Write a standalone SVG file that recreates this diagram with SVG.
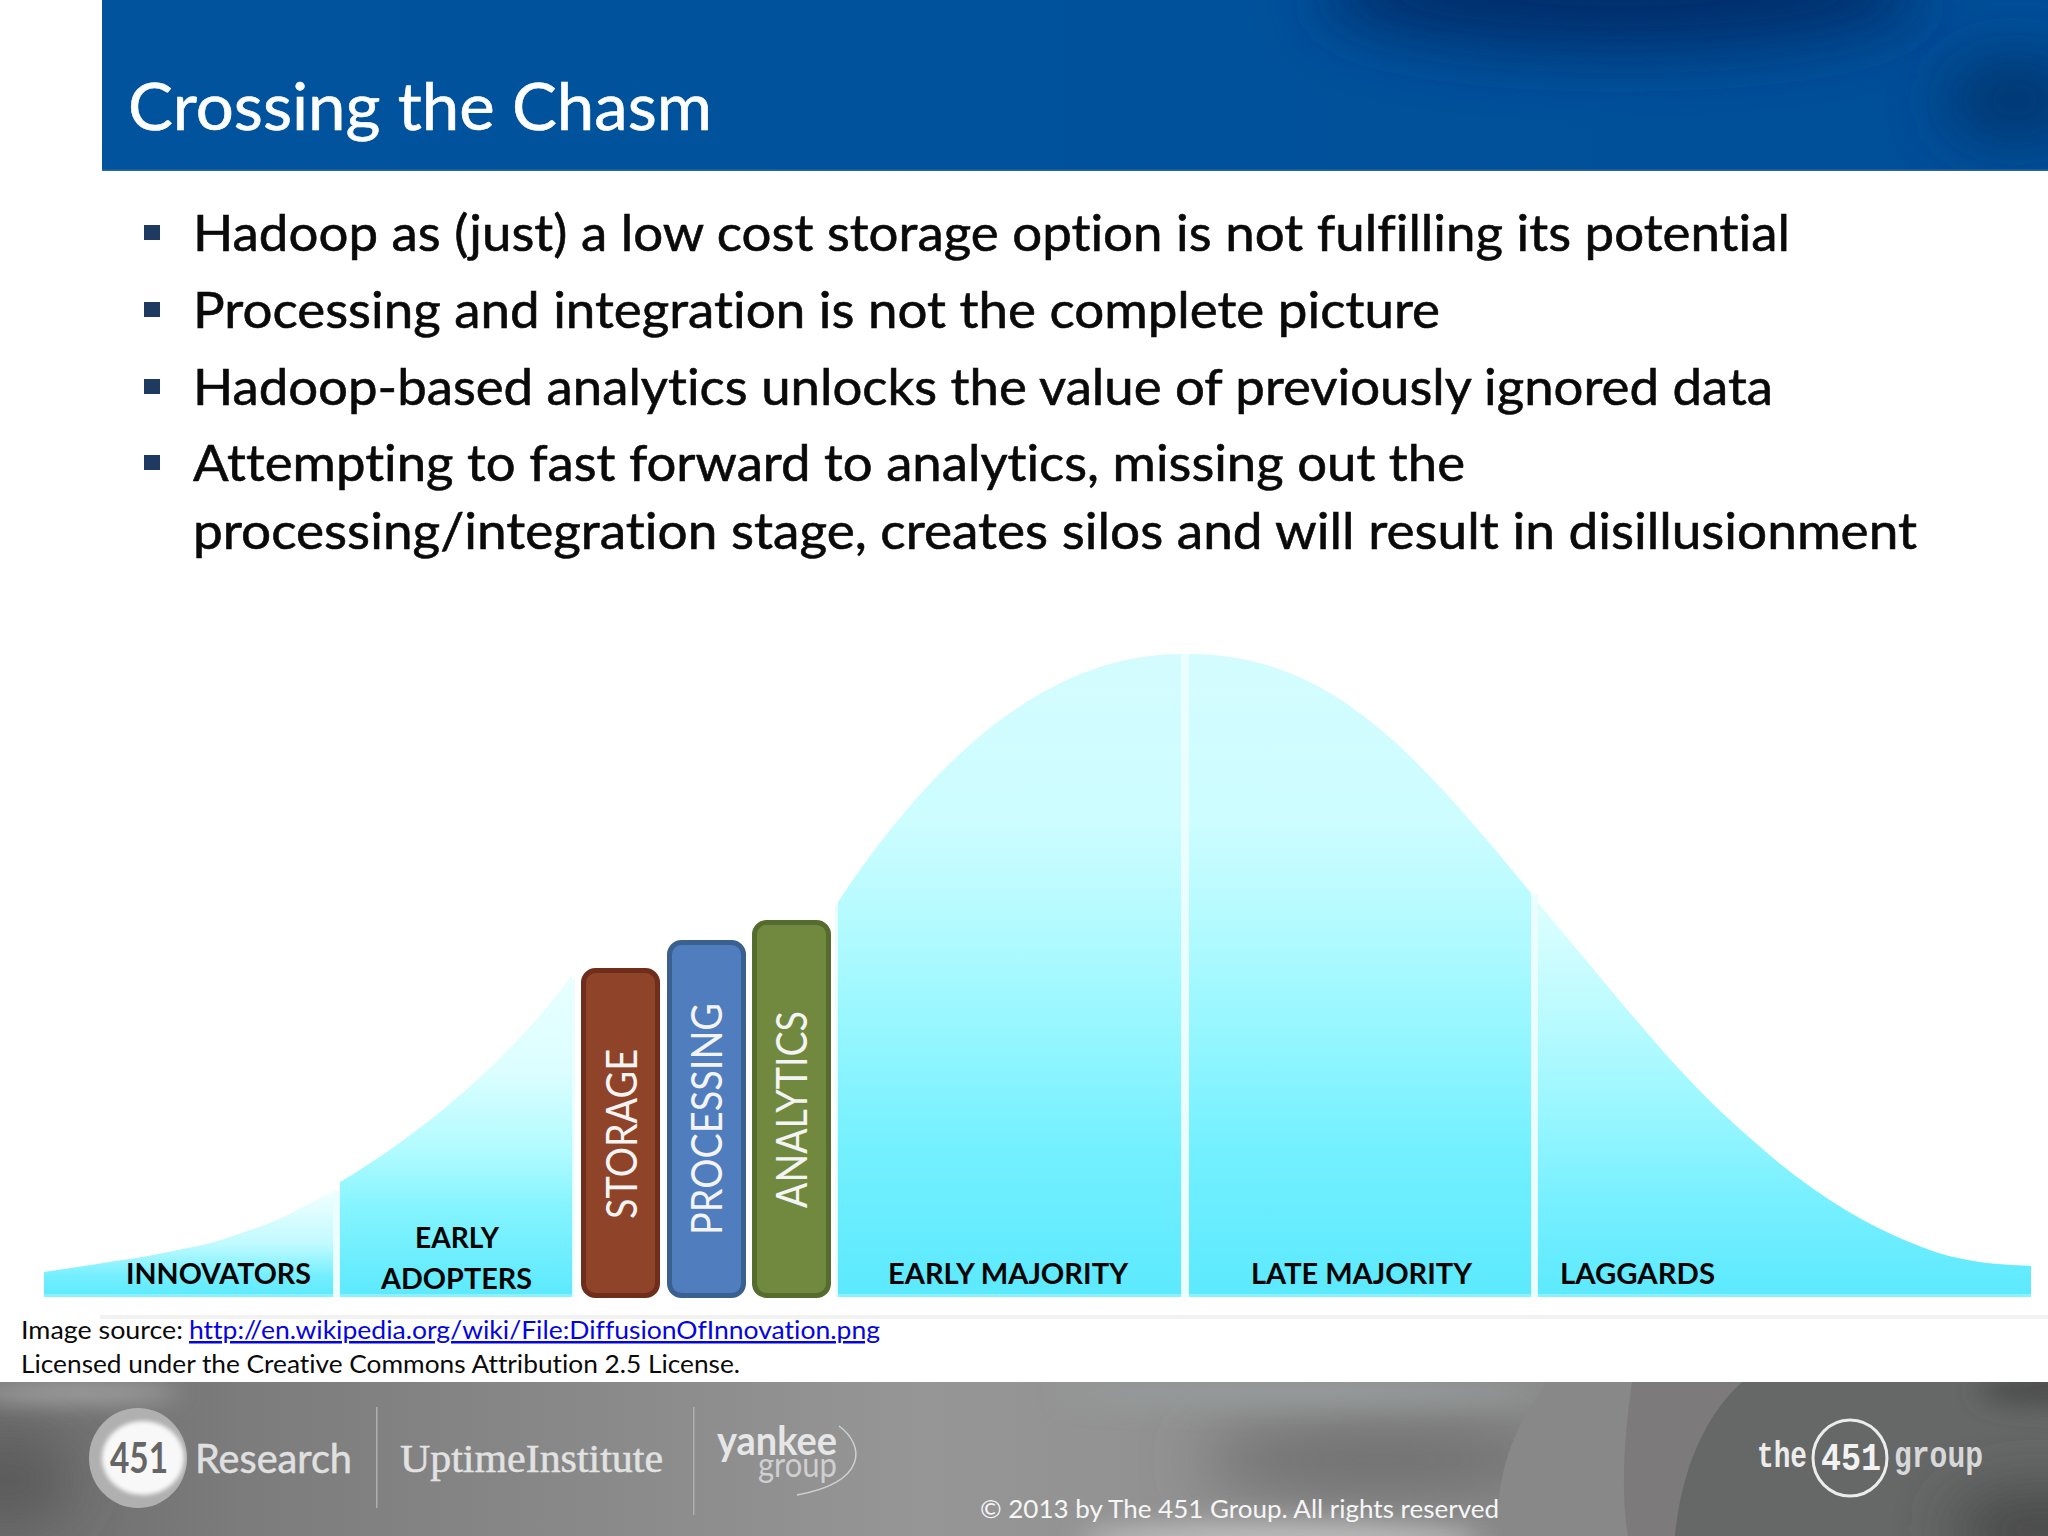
<svg xmlns="http://www.w3.org/2000/svg" width="2048" height="1536" viewBox="0 0 2048 1536">
<style>
text{font-family:"Lato","Liberation Sans",sans-serif;font-variant-ligatures:none}
.body{font-size:51px;fill:#0a0a0a;stroke:#0a0a0a;stroke-width:.6}
.lab{font-size:28px;font-weight:700;fill:#050505}
.vert{font-size:42px;fill:#f4f4f4}
.src{font-size:25px;fill:#0a0a0a}
.bar{stroke-width:5}
.bul{fill:#1f3a60}
.gap{fill:#eafeff}
</style>
<defs>
<linearGradient id="hdr" x1="0" x2="1" y1="0" y2="0"><stop offset="0" stop-color="#00539c"/><stop offset=".55" stop-color="#00519b"/><stop offset="1" stop-color="#004e98"/></linearGradient>
<linearGradient id="g1" gradientUnits="userSpaceOnUse" x1="0" x2="0" y1="653" y2="1297"><stop offset="0" stop-color="#d4fcff"/><stop offset=".26" stop-color="#cdfdff"/><stop offset=".45" stop-color="#aefaff"/><stop offset=".6" stop-color="#93f6ff"/><stop offset=".78" stop-color="#72f0ff"/><stop offset="1" stop-color="#5ce9fe"/></linearGradient>
<linearGradient id="g2" gradientUnits="userSpaceOnUse" x1="0" x2="0" y1="974" y2="1297"><stop offset="0" stop-color="#e8ffff"/><stop offset=".3" stop-color="#dcfeff"/><stop offset=".55" stop-color="#b0fbff"/><stop offset=".72" stop-color="#85f4ff"/><stop offset="1" stop-color="#5ce9fe"/></linearGradient>
<linearGradient id="g3" gradientUnits="userSpaceOnUse" x1="0" x2="0" y1="1191" y2="1297"><stop offset="0" stop-color="#f2ffff"/><stop offset=".5" stop-color="#c0faff"/><stop offset=".8" stop-color="#74efff"/><stop offset="1" stop-color="#5ce9fe"/></linearGradient>
<linearGradient id="g4" gradientUnits="userSpaceOnUse" x1="0" x2="0" y1="903" y2="1297"><stop offset="0" stop-color="#defeff"/><stop offset=".3" stop-color="#b8fbff"/><stop offset=".55" stop-color="#96f6ff"/><stop offset=".75" stop-color="#78f0ff"/><stop offset="1" stop-color="#5ce9fe"/></linearGradient>
<linearGradient id="ft" x1="0" x2="1" y1="0" y2="0"><stop offset="0" stop-color="#6c6c6c"/><stop offset=".12" stop-color="#7c7c7c"/><stop offset=".3" stop-color="#8a8a8a"/><stop offset=".45" stop-color="#969696"/><stop offset=".72" stop-color="#8c8c8c"/><stop offset="1" stop-color="#7a7a7a"/></linearGradient>
<filter id="b30" x="-60%" y="-150%" width="220%" height="400%"><feGaussianBlur stdDeviation="30"/></filter>
<filter id="b12" x="-30%" y="-150%" width="160%" height="400%"><feGaussianBlur stdDeviation="12"/></filter>
<filter id="b2" x="-10%" y="-10%" width="120%" height="120%"><feGaussianBlur stdDeviation="2"/></filter>
<clipPath id="hc"><rect x="102" y="0" width="1946" height="171"/></clipPath>
<clipPath id="fc"><rect x="0" y="1382" width="2048" height="154"/></clipPath>
</defs>
<rect width="2048" height="1536" fill="#ffffff"/>
<g id="header" clip-path="url(#hc)">
<rect x="102" y="0" width="1946" height="171" fill="url(#hdr)"/>
<ellipse cx="1620" cy="-5" rx="300" ry="55" fill="#002f6c" filter="url(#b30)"/>
<ellipse cx="2015" cy="100" rx="70" ry="40" fill="#00346e" filter="url(#b30)"/>
<rect x="102" y="169.500" width="1946" height="1.500" fill="#2a6a9a"/>
<text x="128" y="130" font-size="66" fill="#ffffff" stroke="#ffffff" stroke-width=".6" textLength="584" lengthAdjust="spacingAndGlyphs">Crossing the Chasm</text>
</g>
<g id="bullets">
<rect class="bul" x="144" y="225" width="16" height="15"/>
<rect class="bul" x="144" y="302" width="16" height="15"/>
<rect class="bul" x="144" y="379" width="16" height="15"/>
<rect class="bul" x="144" y="455" width="16" height="15"/>
<text class="body" x="193" y="251" textLength="1597" lengthAdjust="spacingAndGlyphs">Hadoop as (just) a low cost storage option is not fulfilling its potential</text>
<text class="body" x="193" y="328" textLength="1247" lengthAdjust="spacingAndGlyphs">Processing and integration is not the complete picture</text>
<text class="body" x="193" y="405" textLength="1580" lengthAdjust="spacingAndGlyphs">Hadoop-based analytics unlocks the value of previously ignored data</text>
<text class="body" x="193" y="481" textLength="1272" lengthAdjust="spacingAndGlyphs">Attempting to fast forward to analytics, missing out the</text>
<text class="body" x="193" y="549" textLength="1724" lengthAdjust="spacingAndGlyphs">processing/integration stage, creates silos and will result in disillusionment</text>
</g>
<g id="curve">
<rect class="gap" x="333" y="1191" width="7" height="106"/><rect class="gap" x="1181" y="654" width="8" height="643"/><rect class="gap" x="1531" y="895" width="7" height="402"/><rect class="gap" x="835" y="905" width="3" height="392"/><rect class="gap" x="572" y="980" width="3" height="317"/>
<path id="innovators" fill="url(#g3)" d="M44 1272C62 1269 79 1267 97 1264C119 1260 141 1258 163 1253C186 1248 208 1245 230 1237C253 1229 276 1222 297 1210C310 1203 322 1197 333 1191V1297H44Z"/>
<path id="adopters" fill="url(#g2)" d="M340 1182C420 1135 510 1060 572 975V1297H340Z"/>
<path id="early-majority" fill="url(#g1)" d="M838 902C925 770 1040 654 1181 654V1297H838Z"/>
<path id="late-majority" fill="url(#g1)" d="M1189 654C1330 654 1415 752 1531 893V1297H1189Z"/>
<path id="laggards" fill="url(#g4)" d="M1538 903C1545 911 1564.700 934.700 1580 953C1595.300 971.300 1613.300 993.500 1630 1013C1646.700 1032.500 1663.300 1052.200 1680 1070C1696.700 1087.800 1710.500 1102.200 1730 1120C1749.500 1137.800 1774.800 1160.300 1797 1177C1819.200 1193.700 1840.800 1207.800 1863 1220C1885.200 1232.200 1910.500 1243 1930 1250C1949.500 1257 1963.200 1259.300 1980 1262C1996.800 1264.700 2022.500 1265.300 2031 1266V1297H1538Z"/>
<rect x="44" y="1294" width="289" height="3" fill="#8af2ff"/><rect x="340" y="1294" width="232" height="3" fill="#8af2ff"/><rect x="838" y="1294" width="343" height="3" fill="#8af2ff"/><rect x="1189" y="1294" width="342" height="3" fill="#8af2ff"/><rect x="1538" y="1294" width="493" height="3" fill="#8af2ff"/>
<rect x="100" y="1315" width="1948" height="4" fill="#f2f2f2"/>
</g>
<g id="labels">
<text class="lab" x="126" y="1284" textLength="185" lengthAdjust="spacingAndGlyphs">INNOVATORS</text>
<text class="lab" x="415" y="1248" textLength="84" lengthAdjust="spacingAndGlyphs">EARLY</text>
<text class="lab" x="381" y="1289" textLength="151" lengthAdjust="spacingAndGlyphs">ADOPTERS</text>
<text class="lab" x="888" y="1284" textLength="240" lengthAdjust="spacingAndGlyphs">EARLY MAJORITY</text>
<text class="lab" x="1251" y="1284" textLength="221" lengthAdjust="spacingAndGlyphs">LATE MAJORITY</text>
<text class="lab" x="1560" y="1284" textLength="155" lengthAdjust="spacingAndGlyphs">LAGGARDS</text>
</g>
<g id="storage">
<rect class="bar" x="583.500" y="970.500" width="74" height="325" rx="12" fill="#8f4329" stroke="#6e2e1b"/>
<text class="vert" x="637" y="1219" transform="rotate(-90 637 1219)" textLength="170" lengthAdjust="spacingAndGlyphs">STORAGE</text>
</g>
<g id="processing">
<rect class="bar" x="669.500" y="942.500" width="74" height="353" rx="12" fill="#4f7dbd" stroke="#39608f"/>
<text class="vert" x="722" y="1235" transform="rotate(-90 722 1235)" textLength="232" lengthAdjust="spacingAndGlyphs">PROCESSING</text>
</g>
<g id="analytics">
<rect class="bar" x="754.500" y="922.500" width="74" height="373" rx="12" fill="#71893f" stroke="#566b2e"/>
<text class="vert" x="807" y="1208" transform="rotate(-90 807 1208)" textLength="197" lengthAdjust="spacingAndGlyphs">ANALYTICS</text>
</g>
<g id="source">
<text class="src" x="21" y="1339" textLength="162" lengthAdjust="spacingAndGlyphs">Image source:</text>
<text class="src" x="189" y="1339" textLength="691" lengthAdjust="spacingAndGlyphs" style="fill:#0505e0;text-decoration:underline">http://en.wikipedia.org/wiki/File:DiffusionOfInnovation.png</text>
<text class="src" x="21" y="1373" textLength="719" lengthAdjust="spacingAndGlyphs">Licensed under the Creative Commons Attribution 2.5 License.</text>
</g>
<g id="footer">
<g clip-path="url(#fc)">
<rect x="0" y="1382" width="2048" height="154" fill="url(#ft)"/>
<ellipse cx="10" cy="1480" rx="60" ry="35" fill="#565656" filter="url(#b30)"/>
<ellipse cx="70" cy="1392" rx="110" ry="9" fill="#b0b0b0" filter="url(#b12)"/>
<ellipse cx="1380" cy="1460" rx="180" ry="35" fill="#6e6e6e" filter="url(#b30)"/>
<ellipse cx="1300" cy="1393" rx="240" ry="12" fill="#969c9c" filter="url(#b12)"/>
<ellipse cx="1280" cy="1540" rx="200" ry="18" fill="#bcbcbc" filter="url(#b12)"/>
<path d="M1548 1382C1510 1430 1495 1480 1498 1536H2048V1382Z" fill="#888"/>
<path d="M1632 1382C1625 1430 1620 1490 1628 1536H2048V1382Z" fill="#7c7a7a"/>
<path d="M1742 1382C1700 1420 1680 1480 1675 1536H2048V1382Z" fill="#666868"/>
<ellipse cx="2040" cy="1530" rx="90" ry="40" fill="#464646" filter="url(#b30)"/>
<ellipse cx="2048" cy="1390" rx="70" ry="16" fill="#4c4c4c" filter="url(#b12)"/>
</g>
<g id="logo-451research">
<ellipse cx="138" cy="1458" rx="49" ry="50" fill="#b0b0b0"/>
<ellipse cx="143" cy="1458" rx="41" ry="37" fill="#f8f8f8" filter="url(#b2)"/>
<text x="110" y="1473" font-size="42" font-weight="700" fill="#666" textLength="58" lengthAdjust="spacingAndGlyphs">451</text>
<text x="195" y="1473" font-size="40" fill="#e0e0e0" stroke="#e0e0e0" stroke-width=".5" textLength="157" lengthAdjust="spacingAndGlyphs">Research</text>
</g>
<rect x="376" y="1407" width="1.500" height="101" fill="#b0b0b0"/>
<text id="logo-uptime" x="400" y="1472" font-size="40" fill="#e2e2e2" stroke="#e2e2e2" stroke-width=".5" style="font-family:'Liberation Serif',serif" textLength="263" lengthAdjust="spacingAndGlyphs">UptimeInstitute</text>
<rect x="693" y="1407" width="1.500" height="108" fill="#b0b0b0"/>
<g id="logo-yankee">
<text x="717" y="1455" font-size="40" font-weight="700" fill="#e6e6e6" textLength="120" lengthAdjust="spacingAndGlyphs">yankee</text>
<text x="758" y="1477" font-size="34" fill="#cfcfcf" textLength="79" lengthAdjust="spacingAndGlyphs">group</text>
<path d="M839 1426C865 1445 868 1482 797 1495" fill="none" stroke="#d0d0d0" stroke-width="1.500"/>
</g>
<g id="logo-451group">
<text x="1757" y="1467" font-size="36" font-weight="700" fill="#ececec" style="font-family:'Liberation Mono',monospace" textLength="50" lengthAdjust="spacingAndGlyphs">the</text>
<ellipse cx="1850" cy="1458" rx="37" ry="38" fill="none" stroke="#ececec" stroke-width="3"/>
<text x="1821" y="1470" font-size="38" font-weight="700" fill="#f2f2f2" style="font-family:'Liberation Mono',monospace" textLength="60" lengthAdjust="spacingAndGlyphs">451</text>
<text x="1894" y="1467" font-size="36" font-weight="700" fill="#d8d8d8" style="font-family:'Liberation Mono',monospace" textLength="89" lengthAdjust="spacingAndGlyphs">group</text>
</g>
<text id="copyright" x="980" y="1518" font-size="25" fill="#f6f6f6" textLength="519" lengthAdjust="spacingAndGlyphs">© 2013 by The 451 Group. All rights reserved</text>
</g>
</svg>
